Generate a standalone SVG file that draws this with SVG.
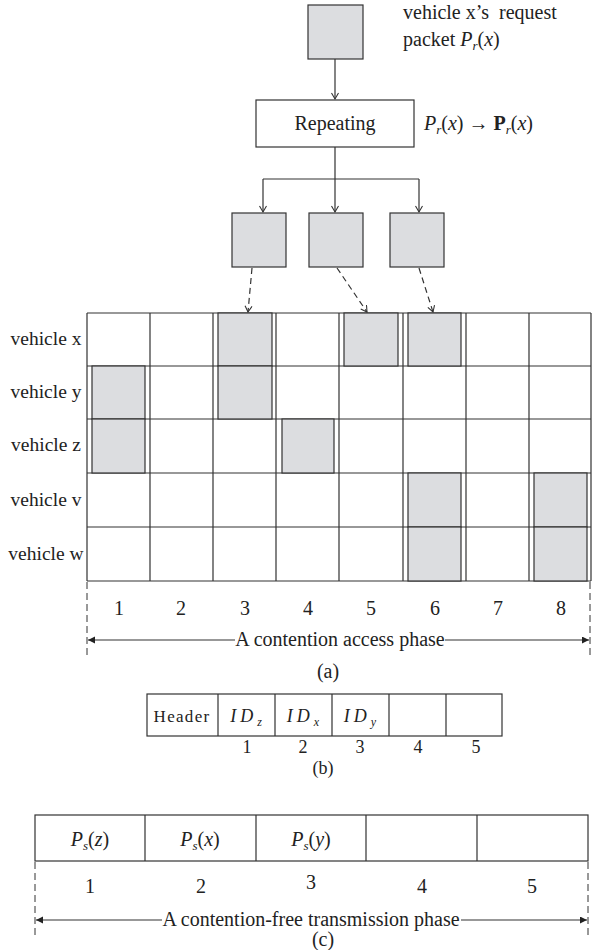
<svg xmlns="http://www.w3.org/2000/svg" width="592" height="950" viewBox="0 0 592 950">
<style>
  text { font-family: "Liberation Serif", "Times New Roman", serif; fill: #222; }
  .t { font-size: 20px; }
  .lbl { font-size: 20px; text-anchor: middle; }
  .sm { font-size: 18px; text-anchor: middle; }
  .box { fill: #ffffff; stroke: #333; stroke-width: 1.2; }
  .pkt { fill: #dcdde0; stroke: #333; stroke-width: 1.2; }
  .grid { stroke: #333; stroke-width: 1.2; fill: none; }
  .conn { stroke: #333; stroke-width: 1.2; fill: none; }
  .dash { stroke: #333; stroke-width: 1.2; fill: none; stroke-dasharray: 6 4; }
  .vdash { stroke: #333; stroke-width: 1; fill: none; stroke-dasharray: 7 4; }
  .it { font-style: italic; }
</style>
<defs>
  <marker id="open" markerWidth="10" markerHeight="10" refX="7" refY="4" orient="auto" markerUnits="userSpaceOnUse">
    <path d="M1,0.5 L7,4 L1,7.5" fill="none" stroke="#333" stroke-width="1.1"/>
  </marker>
  <marker id="fill" markerWidth="10" markerHeight="10" refX="7" refY="3.5" orient="auto-start-reverse" markerUnits="userSpaceOnUse">
    <path d="M0,0 L7,3.5 L0,7 Z" fill="#222"/>
  </marker>
</defs>

<!-- top packet -->
<g id="request-packet">
  <rect class="pkt" x="308" y="5" width="55" height="54"/>
  <text class="t" x="403" y="19" xml:space="preserve">vehicle x’s  request</text>
  <text class="t" x="403" y="46">packet <tspan class="it">P</tspan><tspan class="it" font-size="13" dy="4">r</tspan><tspan dy="-4">(</tspan><tspan class="it">x</tspan>)</text>
</g>

<g id="repeating">
  <rect class="box" x="256" y="100" width="158" height="47"/>
  <text class="lbl" x="335" y="130">Repeating</text>
  <text class="t" x="424" y="130"><tspan class="it">P</tspan><tspan class="it" font-size="13" dy="4">r</tspan><tspan dy="-4">(</tspan><tspan class="it">x</tspan>) → <tspan font-weight="bold">P</tspan><tspan class="it" font-size="13" dy="4">r</tspan><tspan dy="-4">(</tspan><tspan class="it">x</tspan>)</text>
</g>

<g id="copy-1"><rect class="pkt" x="232" y="213" width="54" height="54"/></g>
<g id="copy-2"><rect class="pkt" x="309" y="213" width="54" height="54"/></g>
<g id="copy-3"><rect class="pkt" x="390" y="213" width="54" height="54"/></g>

<!-- grid (a) -->
<g id="grid-a">
  <path class="grid" d="M87,313 H591 M87,366 H591 M87,419 H591 M87,473 H591 M87,527 H591 M87,581 H591"/>
  <path class="grid" d="M87,313 V581 M150,313 V581 M213,313 V581 M276,313 V581 M339,313 V581 M403,313 V581 M466,313 V581 M529,313 V581 M591,313 V581"/>
  <rect class="pkt" x="218" y="313" width="54" height="53"/>
  <rect class="pkt" x="344" y="313" width="54" height="53"/>
  <rect class="pkt" x="408" y="313" width="53" height="53"/>
  <rect class="pkt" x="92" y="366" width="53" height="53"/>
  <rect class="pkt" x="218" y="366" width="54" height="53"/>
  <rect class="pkt" x="92" y="419" width="53" height="54"/>
  <rect class="pkt" x="282" y="419" width="52" height="54"/>
  <rect class="pkt" x="408" y="473" width="53" height="54"/>
  <rect class="pkt" x="534" y="473" width="53" height="54"/>
  <rect class="pkt" x="408" y="527" width="53" height="54"/>
  <rect class="pkt" x="534" y="527" width="53" height="54"/>
</g>

<g id="row-labels">
  <text x="46" y="345" text-anchor="middle" font-size="19.5">vehicle x</text>
  <text x="46" y="398" text-anchor="middle" font-size="19.5">vehicle y</text>
  <text x="46" y="451" text-anchor="middle" font-size="19.5">vehicle z</text>
  <text x="46" y="506" text-anchor="middle" font-size="19.5">vehicle v</text>
  <text x="46" y="560" text-anchor="middle" font-size="19.5">vehicle w</text>
</g>

<g id="slot-numbers-a">
  <text class="lbl" x="119" y="615">1</text>
  <text class="lbl" x="181" y="615">2</text>
  <text class="lbl" x="245" y="615">3</text>
  <text class="lbl" x="308" y="615">4</text>
  <text class="lbl" x="371" y="615">5</text>
  <text class="lbl" x="435" y="615">6</text>
  <text class="lbl" x="498" y="615">7</text>
  <text class="lbl" x="561" y="615">8</text>
</g>

<g id="phase-a">
  <text class="lbl" x="340" y="646">A contention access phase</text>
  <text class="lbl" x="328" y="678">(a)</text>
</g>

<!-- (b) -->
<g id="frame-b">
  <rect class="box" x="147" y="694" width="355" height="42"/>
  <path class="grid" d="M218,694 V736 M275,694 V736 M332,694 V736 M389,694 V736 M446,694 V736"/>
  <text x="182" y="722" font-size="17" text-anchor="middle" letter-spacing="1.3" fill="#444">Header</text>
  <text class="sm" x="246" y="722"><tspan class="it" letter-spacing="4">ID</tspan><tspan class="it" font-size="12" dy="4">z</tspan></text>
  <text class="sm" x="303" y="722"><tspan class="it" letter-spacing="4">ID</tspan><tspan class="it" font-size="12" dy="4">x</tspan></text>
  <text class="sm" x="360" y="722"><tspan class="it" letter-spacing="4">ID</tspan><tspan class="it" font-size="12" dy="4">y</tspan></text>
  <text class="sm" x="247" y="753">1</text>
  <text class="sm" x="303" y="753">2</text>
  <text class="sm" x="360" y="753">3</text>
  <text class="sm" x="418" y="753">4</text>
  <text class="sm" x="476" y="753">5</text>
  <text class="sm" x="323" y="774">(b)</text>
</g>

<!-- (c) -->
<g id="frame-c">
  <rect class="box" x="35" y="815" width="553" height="46"/>
  <path class="grid" d="M145,815 V861 M256,815 V861 M366,815 V861 M477,815 V861"/>
  <text class="lbl" x="90" y="846"><tspan class="it">P</tspan><tspan class="it" font-size="13" dy="4">s</tspan><tspan dy="-4">(</tspan><tspan class="it">z</tspan>)</text>
  <text class="lbl" x="200" y="846"><tspan class="it">P</tspan><tspan class="it" font-size="13" dy="4">s</tspan><tspan dy="-4">(</tspan><tspan class="it">x</tspan>)</text>
  <text class="lbl" x="311" y="846"><tspan class="it">P</tspan><tspan class="it" font-size="13" dy="4">s</tspan><tspan dy="-4">(</tspan><tspan class="it">y</tspan>)</text>
  <text class="lbl" x="90" y="893">1</text>
  <text class="lbl" x="201" y="893">2</text>
  <text class="lbl" x="311" y="889">3</text>
  <text class="lbl" x="422" y="893">4</text>
  <text class="lbl" x="532" y="893">5</text>
  <text class="lbl" x="311" y="926">A contention-free transmission phase</text>
  <text class="lbl" x="323" y="946">(c)</text>
</g>

<g id="connectors">
  <path class="conn" d="M335,59 V99" marker-end="url(#open)"/>
  <path class="conn" d="M335,147 V179 M263,179 H419"/>
  <path class="conn" d="M263,179 V212" marker-end="url(#open)"/>
  <path class="conn" d="M335,179 V212" marker-end="url(#open)"/>
  <path class="conn" d="M419,179 V212" marker-end="url(#open)"/>
  <path class="dash" d="M252,268 L248,312" marker-end="url(#open)"/>
  <path class="dash" d="M337,268 L367,312" marker-end="url(#open)"/>
  <path class="dash" d="M419,268 L433,312" marker-end="url(#open)"/>
  <path class="vdash" d="M87,582 V657 M590,582 V657"/>
  <path class="conn" d="M88,640 H235 M445,640 H589" marker-start="url(#fill)" marker-end="url(#fill)"/>
  <path class="vdash" d="M35,862 V936 M588,862 V936"/>
  <path class="conn" d="M36,920 H162 M461,920 H587" marker-start="url(#fill)" marker-end="url(#fill)"/>
</g>
</svg>
